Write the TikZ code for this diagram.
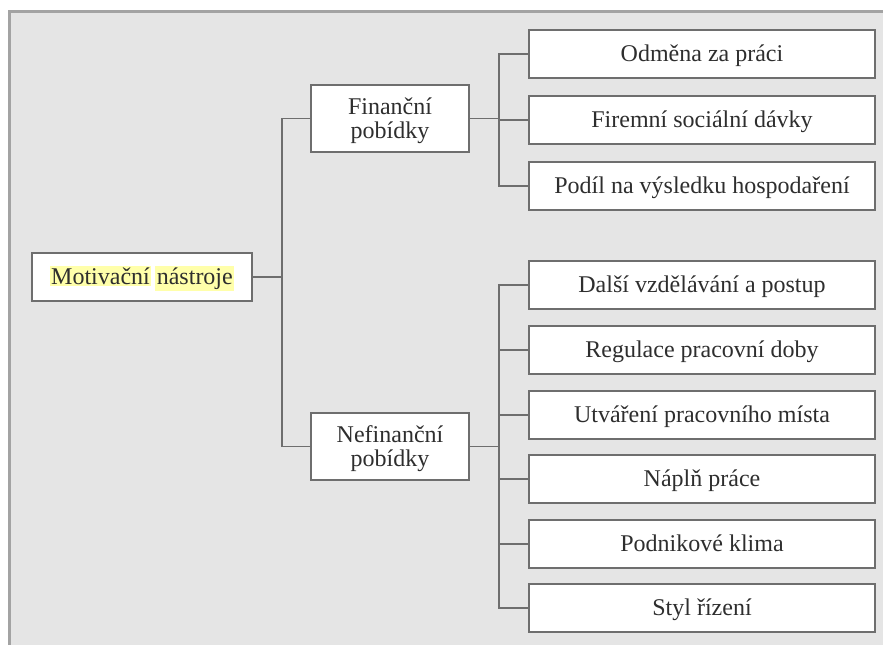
\documentclass[tikz,border=0pt]{standalone}
\usepackage{fontspec}
\setmainfont{Liberation Serif}
\definecolor{panel}{HTML}{E5E5E5}
\definecolor{edge}{HTML}{6E6E6E}
\definecolor{txt}{HTML}{2E2E2E}
\definecolor{hly}{HTML}{FFFFAA}
\definecolor{frameg}{HTML}{A3A3A3}
\newcommand\hlword[1]{{\setlength{\fboxsep}{1.5pt}\colorbox{hly}{#1}}}
\begin{document}
\begin{tikzpicture}[x=1pt,y=-1pt,
  box/.style={draw=edge, line width=1.8pt, fill=white, text=txt, align=center,
    font=\fontsize{24}{24.5}\selectfont, inner sep=0pt, text height=14pt, text depth=0pt},
  leaf/.style={box, minimum width=346pt, minimum height=48pt},
  mid/.style={box, minimum width=158pt, minimum height=67pt, text height=40pt, text depth=0pt},
  conn/.style={draw=edge, line width=1.8pt}]
\useasboundingbox (0,0) rectangle (883,645);
\fill[white] (0,0) rectangle (883,645);
\fill[panel] (8,11) rectangle (883,645);
\draw[frameg, line width=3pt] (9.5,645) -- (9.5,11.5) -- (883,11.5);

\node[box, minimum width=220pt, minimum height=48pt] (root) at (142,277)
  {\hlword{Motivační}\hspace{4pt}\hlword{nástroje}};
\node[mid] (fin) at (390,118.5) {Finanční\\pobídky};
\node[mid] (nefin) at (390,446.5) {Nefinanční\\pobídky};

\node[leaf] (c1) at (702,54) {Odměna za práci};
\node[leaf] (c2) at (702,120) {Firemní sociální dávky};
\node[leaf] (c3) at (702,186) {Podíl na výsledku hospodaření};

\node[leaf] (d1) at (702,285) {Další vzdělávání a postup};
\node[leaf] (d2) at (702,350) {Regulace pracovní doby};
\node[leaf] (d3) at (702,415) {Utváření pracovního místa};
\node[leaf] (d4) at (702,479) {Náplň práce};
\node[leaf] (d5) at (702,544) {Podnikové klima};
\node[leaf] (d6) at (702,608) {Styl řízení};

\coordinate (jr) at (282,277);
\coordinate (jf) at (499,118.5);
\coordinate (jn) at (499,446.5);

\draw[conn] (root.east) -- (jr);
\draw[conn] (fin.west) -| (jr) |- (nefin.west);
\draw[conn] (fin.east) -- (jf);
\draw[conn] (c1.west) -| (jf) |- (c3.west);
\draw[conn] (c2.west) -- (c2.west -| jf);
\draw[conn] (nefin.east) -- (jn);
\draw[conn] (d1.west) -| (jn) |- (d6.west);
\foreach \n in {d2,d3,d4,d5} \draw[conn] (\n.west) -- (\n.west -| jn);
\end{tikzpicture}
\end{document}
